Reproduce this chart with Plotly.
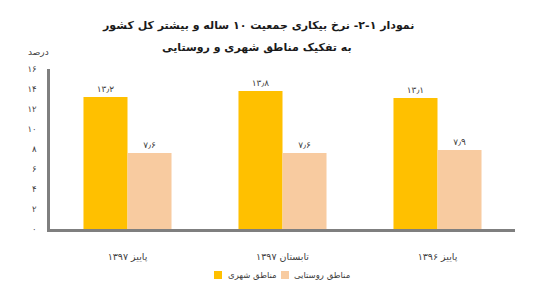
import plotly.graph_objects as go

categories = ["پاییز ۱۳۹۷", "تابستان ۱۳۹۷", "پاییز ۱۳۹۶"]
urban = [13.2, 13.8, 13.1]
rural = [7.6, 7.6, 7.9]
series_names = ["مناطق شهری", "مناطق روستایی"]
series_colors = ["#FFC000", "#F8CBA0"]
y_ticks = [0, 2, 4, 6, 8, 10, 12, 14, 16]

FA = str.maketrans("0123456789.", "۰۱۲۳۴۵۶۷۸۹٫")
def fa(v):
    return str(v).translate(FA)

FONT = "DejaVu Sans"

fig = go.Figure()
for vals, name, col in [(urban, series_names[0], series_colors[0]),
                        (rural, series_names[1], series_colors[1])]:
    fig.add_trace(go.Bar(x=categories, y=vals, name=name,
                         marker=dict(color=col, line=dict(width=0)),
                         text=[fa(v) for v in vals], textposition="outside",
                         textfont=dict(size=9, color="#404040", family=FONT),
                         cliponaxis=False))

# plot area: x 50..515 px, y 69..229 px
def px(x):
    return (x - 50) / 465
def py(y):
    return (229 - y) / 160

shapes = []
annotations = [
    dict(text="<b>نمودار ١-٢- نرخ بیکاری جمعیت ۱۰ ساله و بیشتر کل کشور</b>",
         xref="paper", yref="paper", x=px(258), y=py(25),
         showarrow=False, xanchor="center", yanchor="middle",
         font=dict(size=11, color="#1a1a1a")),
    dict(text="<b>به تفکیک مناطق شهری و روستایی</b>",
         xref="paper", yref="paper", x=px(257), y=py(47),
         showarrow=False, xanchor="center", yanchor="middle",
         font=dict(size=11, color="#1a1a1a")),
    dict(text="درصد", xref="paper", yref="paper", x=px(38), y=py(52),
         showarrow=False, xanchor="center", yanchor="middle",
         font=dict(size=9, color="#404040")),
]
# legend (manual, to mimic the tight swatch/text spacing)
legend_pos = [(214, 226), (281, 292)]
for (sx, tx), name, col in zip(legend_pos, series_names, series_colors):
    shapes.append(dict(type="rect", xref="paper", yref="paper",
                       x0=px(sx), x1=px(sx + 8), y0=py(279), y1=py(271),
                       fillcolor=col, line=dict(width=0)))
    annotations.append(dict(text=name, xref="paper", yref="paper", x=px(tx), y=py(275),
                            showarrow=False, xanchor="left", yanchor="middle",
                            font=dict(size=8.5, color="#404040")))

fig.update_layout(
    width=538, height=289,
    margin=dict(l=50, r=23, t=69, b=60),
    paper_bgcolor="white", plot_bgcolor="white",
    barmode="group", bargap=0.432, bargroupgap=0,
    font=dict(family=FONT, size=9, color="#404040"),
    showlegend=False,
    xaxis=dict(showline=True, linecolor="#7F7F7F", linewidth=2.5, ticks="",
               showgrid=False, ticklabelstandoff=17, tickfont=dict(size=9.5)),
    yaxis=dict(range=[0, 16], tickvals=y_ticks, ticktext=[fa(v) for v in y_ticks],
               showline=True, linecolor="#7F7F7F", linewidth=2.5, showgrid=False,
               zeroline=False, ticks="", ticklabelstandoff=9, tickfont=dict(size=8.5)),
    shapes=shapes,
    annotations=annotations,
)

fig.write_html("out.html")
